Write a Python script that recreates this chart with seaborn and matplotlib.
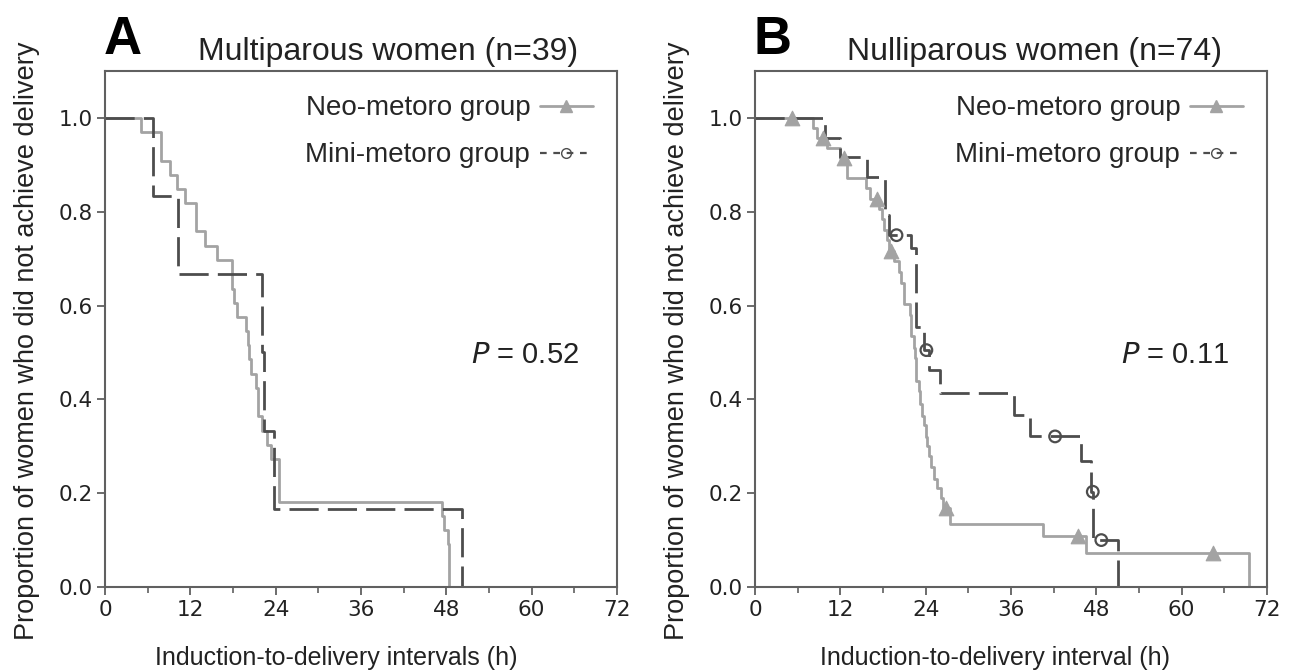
import matplotlib
matplotlib.use("Agg")
import matplotlib.pyplot as plt
from matplotlib import font_manager
from matplotlib.lines import Line2D
from matplotlib.ticker import MultipleLocator
import pandas as pd
import seaborn as sns

# ---- data (Kaplan-Meier steps, hours / proportion) ----
neo_a_t = [0, 5.0, 7.9, 9.1, 10.1, 11.3, 12.8, 14.0, 15.7, 17.8, 18.1, 18.6, 19.8,
           20.1, 20.3, 20.5, 21.2, 21.5, 22.1, 22.8, 23.4, 24.5, 47.4, 47.7, 48.3, 48.4]
neo_a_v = [1.0, 0.970, 0.909, 0.879, 0.848, 0.818, 0.758, 0.727, 0.697, 0.636, 0.606,
           0.576, 0.545, 0.515, 0.485, 0.455, 0.424, 0.364, 0.333, 0.303, 0.273, 0.182,
           0.152, 0.121, 0.091, 0.0]
mini_a_t = [0, 6.8, 10.2, 22.1, 22.4, 23.8, 50.2]
mini_a_v = [1.0, 0.833, 0.667, 0.5, 0.333, 0.167, 0.0]

neo_b_t = [0, 8.2, 8.7, 10.1, 12.0, 13.0, 15.6, 16.2, 17.5, 17.8, 18.2, 18.5, 18.8,
           19.5, 20.2, 20.6, 21.0, 21.8, 22.0, 22.3, 22.5, 22.7, 23.0, 23.2, 23.5,
           23.7, 24.0, 24.2, 24.5, 24.8, 25.2, 25.6, 26.2, 26.5, 27.4, 40.5, 46.5, 69.5]
neo_b_v = [1.0, 0.978, 0.957, 0.936, 0.915, 0.872, 0.850, 0.828, 0.806, 0.784, 0.762,
           0.739, 0.716, 0.694, 0.671, 0.648, 0.603, 0.580, 0.535, 0.510, 0.488, 0.440,
           0.418, 0.390, 0.365, 0.345, 0.320, 0.300, 0.280, 0.255, 0.230, 0.210, 0.190,
           0.168, 0.134, 0.109, 0.072, 0.0]
neo_b_cens_t = [5.2, 9.6, 12.5, 17.1, 19.1, 26.9, 45.4, 64.4]
neo_b_cens_v = [1.0, 0.957, 0.915, 0.828, 0.716, 0.168, 0.109, 0.072]

mini_b_t = [0, 9.9, 12.0, 15.7, 18.3, 18.9, 22.0, 22.6, 23.7, 24.4, 26.0, 36.4, 38.7,
            45.8, 47.3, 47.6, 51.0]
mini_b_v = [1.0, 0.958, 0.917, 0.875, 0.792, 0.75, 0.722, 0.555, 0.505, 0.463, 0.413,
            0.367, 0.321, 0.268, 0.203, 0.10, 0.0]
mini_b_cens_t = [19.9, 24.1, 42.2, 47.5, 48.7]
mini_b_cens_v = [0.75, 0.505, 0.321, 0.203, 0.10]

panel_letters = ["A", "B"]
panel_titles = ["Multiparous women (n=39)", "Nulliparous women (n=74)"]
x_labels = ["Induction-to-delivery intervals (h)", "Induction-to-delivery interval (h)"]
p_texts = ["0.52", "0.11"]
y_label = "Proportion of women who did not achieve delivery"
legend_labels = ["Neo-metoro group", "Mini-metoro group"]

NEO_C = "#a3a3a3"
MINI_C = "#4d4d4d"
TXT = ["Liberation Sans", "DejaVu Sans"]

sns.set_style("ticks")
plt.rcParams["font.family"] = TXT

# tick labels in the reference look like a narrow Verdana
try:
    font_manager.findfont("DejaVu Sans Condensed", fallback_to_default=False)
    TICK_FONT, TICK_SIZE = "DejaVu Sans Condensed", 17
except ValueError:
    TICK_FONT, TICK_SIZE = "DejaVu Sans", 15.5


def km_frame(t, v):
    return pd.DataFrame({"t": t, "v": v})


def draw_panel(ax, neo, mini, neo_c=None, mini_c=None):
    sns.lineplot(data=km_frame(*neo), x="t", y="v", ax=ax, color=NEO_C, lw=2.0,
                 drawstyle="steps-post", sort=False, estimator=None)
    sns.lineplot(data=km_frame(*mini), x="t", y="v", ax=ax, color=MINI_C, lw=2.0,
                 drawstyle="steps-post", sort=False, estimator=None,
                 linestyle=(0, (10.5, 3.3)))
    if neo_c is not None:
        sns.scatterplot(data=km_frame(*neo_c), x="t", y="v", ax=ax, marker="^",
                        color=NEO_C, s=110, edgecolor=NEO_C, zorder=4)
    if mini_c is not None:
        sns.scatterplot(data=km_frame(*mini_c), x="t", y="v", ax=ax, marker="o",
                        facecolor="none", edgecolor=MINI_C, s=70, linewidth=1.6,
                        zorder=4)


fig = plt.figure(figsize=(12.95, 6.7), dpi=100)
W, H = 1295, 670
axes = [fig.add_axes([105 / W, 83 / H, 512 / W, 516 / H]),
        fig.add_axes([755 / W, 83 / H, 512 / W, 516 / H])]

draw_panel(axes[0], (neo_a_t, neo_a_v), (mini_a_t, mini_a_v))
draw_panel(axes[1], (neo_b_t, neo_b_v), (mini_b_t, mini_b_v),
           (neo_b_cens_t, neo_b_cens_v), (mini_b_cens_t, mini_b_cens_v))

handles = [
    Line2D([], [], color=NEO_C, lw=2, marker="^", markersize=8),
    Line2D([], [], color=MINI_C, lw=1.6, linestyle=(0, (3, 3)), marker="o",
           markersize=7, markerfacecolor="none", markeredgecolor=MINI_C),
]

title_x = [0.553, 0.546]
xlab_x = [0.452, 0.469]

for i, ax in enumerate(axes):
    ax.set_xlim(0, 72)
    ax.set_ylim(0, 1.1)
    ax.xaxis.set_major_locator(MultipleLocator(12))
    ax.xaxis.set_minor_locator(MultipleLocator(6))
    ax.set_yticks([0, 0.2, 0.4, 0.6, 0.8, 1.0])
    ax.set_yticklabels(["0.0", "0.2", "0.4", "0.6", "0.8", "1.0"])
    for sp in ax.spines.values():
        sp.set_color("#606060")
        sp.set_linewidth(1.5)
    ax.tick_params(axis="both", which="major", length=6, width=1.3, color="#606060",
                   labelsize=TICK_SIZE, pad=3, labelcolor="#222222")
    ax.tick_params(axis="x", which="minor", length=4, width=1.2, color="#606060")
    for lab in ax.get_xticklabels() + ax.get_yticklabels():
        lab.set_fontfamily(TICK_FONT)

    ax.set_xlabel(x_labels[i], fontsize=18, color="#222222")
    ax.xaxis.set_label_coords(xlab_x[i], -0.115)
    ax.set_ylabel(y_label, fontsize=19.5, color="#222222")
    ax.yaxis.set_label_coords(-0.127, 0.478)

    ax.text(title_x[i], 1.037, panel_titles[i], transform=ax.transAxes,
            ha="center", va="center", fontsize=23, color="#222222")
    ax.text(-0.003, 1.06, panel_letters[i], transform=ax.transAxes, ha="left",
            va="center", fontsize=38, fontweight="bold", color="black")

    ax.text(0.715, 0.45, r"$\it{P}$ = " + p_texts[i], transform=ax.transAxes,
            ha="left", va="center", fontsize=21, color="#222222")

    ax.legend(handles=handles, labels=legend_labels, loc="upper right",
              bbox_to_anchor=(0.985, 0.985), markerfirst=False, frameon=False,
              fontsize=20, handlelength=1.9, handletextpad=0.35, labelspacing=0.75,
              borderaxespad=0.2)

fig.savefig("out.png", dpi=100)
